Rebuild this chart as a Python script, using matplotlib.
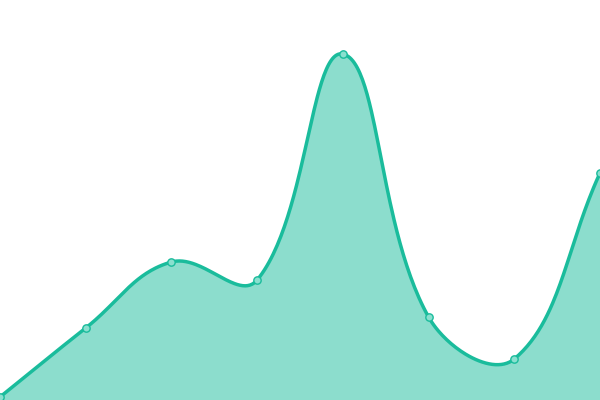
import numpy as np
import matplotlib
matplotlib.use("Agg")
import matplotlib.pyplot as plt

categories = list(range(8))
values = [3, 72, 138, 120, 346, 83, 41, 227]

LINE = "#1abc9c"
FILL = (26/255, 188/255, 156/255, 0.5)

fig = plt.figure(figsize=(6, 4), dpi=100)
ax = fig.add_axes([0, 0, 1, 1])
ax.set_xlim(0, len(categories) - 1)
ax.set_ylim(0, 400)
ax.axis("off")

# Chart.js-like spline (tension 0.4) computed in display space
pts = ax.transData.transform(np.column_stack([categories, values]).astype(float))
t = 0.4
n = len(pts)
cp_prev = pts.copy()
cp_next = pts.copy()
for i in range(n):
    p0 = pts[i - 1] if i > 0 else pts[i]
    p1 = pts[i]
    p2 = pts[i + 1] if i < n - 1 else pts[i]
    d01 = np.hypot(*(p1 - p0))
    d12 = np.hypot(*(p2 - p1))
    tot = d01 + d12
    s01 = d01 / tot if tot else 0
    s12 = d12 / tot if tot else 0
    cp_prev[i] = p1 - t * s01 * (p2 - p0)
    cp_next[i] = p1 + t * s12 * (p2 - p0)

curve = []
ss = np.linspace(0, 1, 60)
for i in range(n - 1):
    P0, P1, P2, P3 = pts[i], cp_next[i], cp_prev[i + 1], pts[i + 1]
    for s in ss[:-1] if i < n - 2 else ss:
        b = ((1 - s) ** 3) * P0 + 3 * ((1 - s) ** 2) * s * P1 + 3 * (1 - s) * s * s * P2 + s ** 3 * P3
        curve.append(b)
curve = np.array(curve)
data_curve = ax.transData.inverted().transform(curve)
cx, cy = data_curve[:, 0], data_curve[:, 1]

ax.fill_between(cx, cy, 0, color=FILL, linewidth=0)
ax.plot(cx, cy, color=LINE, linewidth=2.5, solid_capstyle="round", clip_on=False)
ax.scatter(categories, values, s=28, facecolor="#8ae0cf", edgecolor=LINE,
           linewidth=1, zorder=5, clip_on=False)

fig.savefig("out.png", dpi=100)
